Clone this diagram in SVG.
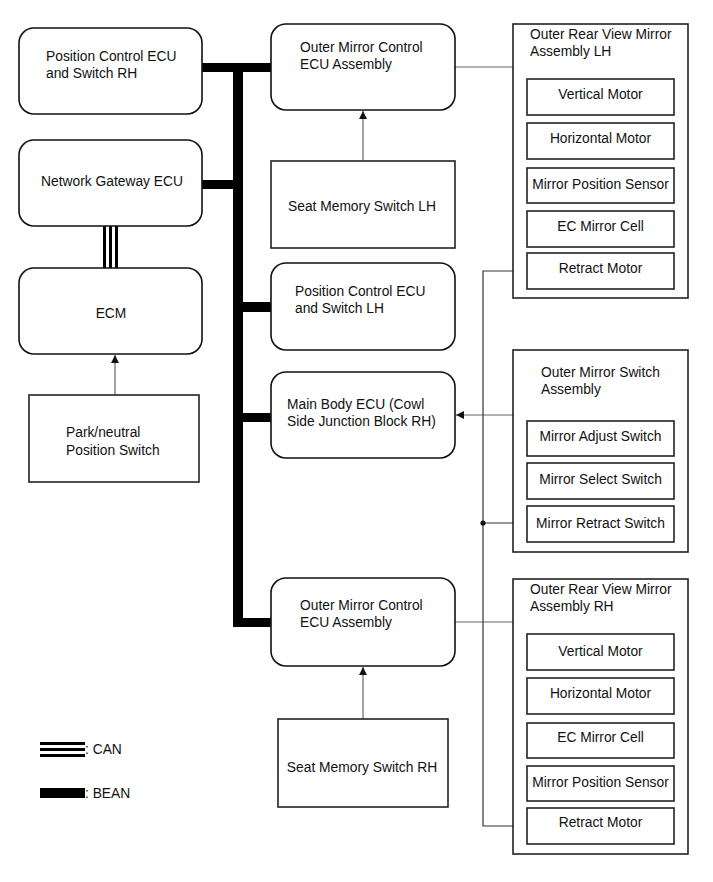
<svg xmlns="http://www.w3.org/2000/svg" width="713" height="882" viewBox="0 0 713 882">
<defs>
<style>
.t{font-family:"Liberation Sans",Arial,sans-serif;font-size:13.8px;fill:#111}
.c{text-anchor:middle}
.rn{fill:#fff;stroke:#111;stroke-width:1.6}
.bx{fill:#fff;stroke:#222;stroke-width:1.6}
.thin{fill:none;stroke:#666;stroke-width:1.2}
.dark{fill:none;stroke:#333;stroke-width:1.2}
.bus{fill:#000}
</style>
<marker id="ah" viewBox="0 0 10 10" refX="10" refY="5" markerWidth="8" markerHeight="8" markerUnits="userSpaceOnUse" orient="auto">
<path d="M0,0 L10,5 L0,10 z" fill="#111"/>
</marker>
</defs>
<rect width="713" height="882" fill="#fff"/>

<g id="connectors">
<!-- BEAN bus -->
<rect class="bus" x="233" y="63" width="10" height="564"/>
<rect class="bus" x="202" y="63" width="69" height="9"/>
<rect class="bus" x="202" y="180" width="31" height="9"/>
<rect class="bus" x="243" y="302" width="28" height="10"/>
<rect class="bus" x="243" y="413" width="28" height="9"/>
<rect class="bus" x="233" y="618" width="38" height="9"/>
<!-- CAN -->
<rect class="bus" x="103" y="226" width="3" height="42"/>
<rect class="bus" x="109" y="226" width="3" height="42"/>
<rect class="bus" x="115" y="226" width="3" height="42"/>
<!-- arrows -->
<line class="thin" x1="115" y1="395" x2="115" y2="355" marker-end="url(#ah)"/>
<line class="thin" x1="363" y1="160" x2="363" y2="111" marker-end="url(#ah)"/>
<line class="thin" x1="363" y1="719" x2="363" y2="667" marker-end="url(#ah)"/>
<line class="thin" x1="513" y1="415" x2="456" y2="415" marker-end="url(#ah)"/>
<!-- ECU to mirror assemblies -->
<line class="thin" x1="455" y1="67" x2="513" y2="67"/>
<line class="thin" x1="455" y1="622" x2="513" y2="622"/>
<!-- retract circuit -->
<polyline class="dark" points="527,271 483,271 483,826 527,826"/>
<line class="dark" x1="483" y1="523" x2="527" y2="523"/>
<circle cx="483" cy="523" r="2.6" fill="#111"/>
</g>

<g id="pos-ctrl-rh">
<rect class="rn" x="19" y="28" width="183" height="86" rx="15"/>
<text class="t" x="46" y="61">Position Control ECU</text>
<text class="t" x="46" y="78">and Switch RH</text>
</g>
<g id="network-gateway">
<rect class="rn" x="19" y="140" width="183" height="86" rx="15"/>
<text class="t c" x="112" y="186">Network Gateway ECU</text>
</g>
<g id="ecm">
<rect class="rn" x="19" y="268" width="183" height="86" rx="15"/>
<text class="t c" x="111" y="318">ECM</text>
</g>
<g id="park-neutral">
<rect class="bx" x="29" y="395" width="170" height="87"/>
<text class="t" x="66" y="437">Park/neutral</text>
<text class="t" x="66" y="455">Position Switch</text>
</g>

<g id="outer-mirror-ecu-lh">
<rect class="rn" x="271" y="24" width="184" height="86" rx="15"/>
<text class="t" x="300" y="52">Outer Mirror Control</text>
<text class="t" x="300" y="69">ECU Assembly</text>
</g>
<g id="seat-memory-lh">
<rect class="bx" x="271" y="161" width="184" height="87"/>
<text class="t c" x="362" y="211">Seat Memory Switch LH</text>
</g>
<g id="pos-ctrl-lh">
<rect class="rn" x="271" y="263" width="184" height="87" rx="15"/>
<text class="t" x="295" y="296">Position Control ECU</text>
<text class="t" x="295" y="313">and Switch LH</text>
</g>
<g id="main-body-ecu">
<rect class="rn" x="271" y="372" width="184" height="86" rx="15"/>
<text class="t" x="287" y="409">Main Body ECU (Cowl</text>
<text class="t" x="287" y="426">Side Junction Block RH)</text>
</g>
<g id="outer-mirror-ecu-rh">
<rect class="rn" x="271" y="578" width="184" height="88" rx="15"/>
<text class="t" x="300" y="610">Outer Mirror Control</text>
<text class="t" x="300" y="627">ECU Assembly</text>
</g>
<g id="seat-memory-rh">
<rect class="bx" x="278" y="719" width="170" height="88"/>
<text class="t c" x="362" y="772">Seat Memory Switch RH</text>
</g>

<g id="mirror-lh">
<rect class="bx" x="513" y="24" width="175" height="274"/>
<text class="t" x="530" y="39">Outer Rear View Mirror</text>
<text class="t" x="530" y="56">Assembly LH</text>
<rect class="bx" x="527" y="79" width="147" height="36"/>
<text class="t c" x="600.5" y="99">Vertical Motor</text>
<rect class="bx" x="527" y="123" width="147" height="36"/>
<text class="t c" x="600.5" y="143">Horizontal Motor</text>
<rect class="bx" x="527" y="168" width="147" height="35"/>
<text class="t c" x="600.5" y="189">Mirror Position Sensor</text>
<rect class="bx" x="527" y="211" width="147" height="36"/>
<text class="t c" x="600.5" y="231">EC Mirror Cell</text>
<rect class="bx" x="527" y="253" width="147" height="36"/>
<text class="t c" x="600.5" y="273">Retract Motor</text>
</g>

<g id="mirror-switch">
<rect class="bx" x="513" y="350" width="175" height="202"/>
<text class="t" x="541" y="377">Outer Mirror Switch</text>
<text class="t" x="541" y="394">Assembly</text>
<rect class="bx" x="527" y="421" width="147" height="35"/>
<text class="t c" x="600.5" y="441">Mirror Adjust Switch</text>
<rect class="bx" x="527" y="463" width="147" height="36"/>
<text class="t c" x="600.5" y="484">Mirror Select Switch</text>
<rect class="bx" x="527" y="506" width="147" height="36"/>
<text class="t c" x="600.5" y="528">Mirror Retract Switch</text>
</g>

<g id="mirror-rh">
<rect class="bx" x="513" y="579" width="175" height="275"/>
<text class="t" x="530" y="594">Outer Rear View Mirror</text>
<text class="t" x="530" y="611">Assembly RH</text>
<rect class="bx" x="527" y="634" width="147" height="36"/>
<text class="t c" x="600.5" y="656">Vertical Motor</text>
<rect class="bx" x="527" y="678" width="147" height="36"/>
<text class="t c" x="600.5" y="698">Horizontal Motor</text>
<rect class="bx" x="527" y="723" width="147" height="35"/>
<text class="t c" x="600.5" y="742">EC Mirror Cell</text>
<rect class="bx" x="527" y="766" width="147" height="35"/>
<text class="t c" x="600.5" y="787">Mirror Position Sensor</text>
<rect class="bx" x="527" y="808" width="147" height="36"/>
<text class="t c" x="600.5" y="827">Retract Motor</text>
</g>

<g id="legend">
<rect class="bus" x="40" y="742" width="45" height="3"/>
<rect class="bus" x="40" y="748" width="45" height="3"/>
<rect class="bus" x="40" y="754" width="45" height="3"/>
<text class="t" x="85" y="754">: CAN</text>
<rect class="bus" x="40" y="788" width="45" height="10"/>
<text class="t" x="85" y="798">: BEAN</text>
</g>
</svg>
